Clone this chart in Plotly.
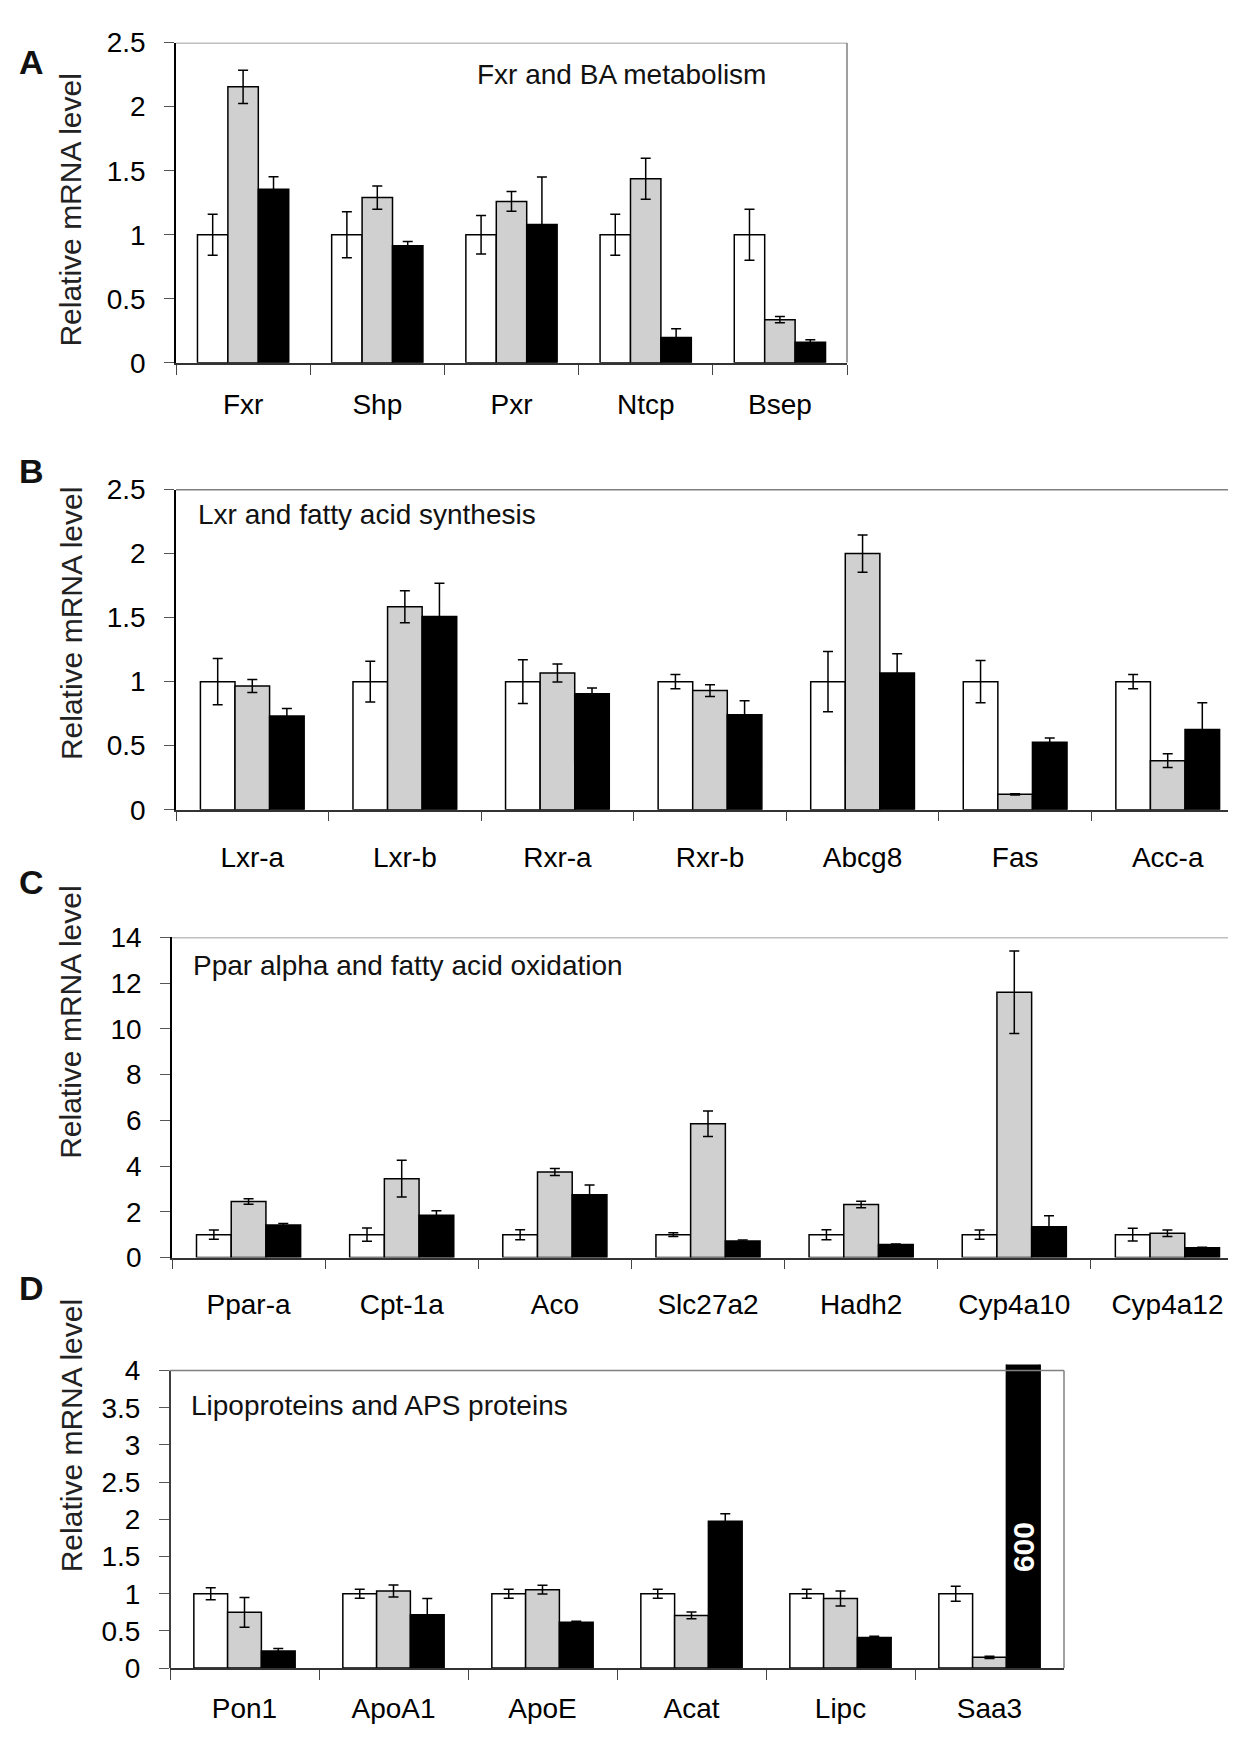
import plotly.graph_objects as go

W, H = 1236, 1737
FONT = "Liberation Sans, Arial, sans-serif"

# ---------------- data ----------------
cats_a = ["Fxr", "Shp", "Pxr", "Ntcp", "Bsep"]
white_a = [1, 1, 1, 1, 1]
white_a_err = [0.16, 0.18, 0.15, 0.16, 0.20]
gray_a = [2.155, 1.29, 1.26, 1.437, 0.337]
gray_a_err = [0.13, 0.09, 0.077, 0.16, 0.024]
black_a = [1.355, 0.915, 1.08, 0.197, 0.16]
black_a_err = [0.097, 0.033, 0.37, 0.07, 0.02]

cats_b = ["Lxr-a", "Lxr-b", "Rxr-a", "Rxr-b", "Abcg8", "Fas", "Acc-a"]
white_b = [1, 1, 1, 1, 1, 1, 1]
white_b_err = [0.18, 0.16, 0.17, 0.055, 0.235, 0.165, 0.055]
gray_b = [0.966, 1.585, 1.068, 0.93, 2.0, 0.12, 0.383]
gray_b_err = [0.05, 0.125, 0.07, 0.046, 0.145, 0.005, 0.053]
black_b = [0.731, 1.508, 0.905, 0.741, 1.068, 0.527, 0.626]
black_b_err = [0.06, 0.26, 0.046, 0.11, 0.15, 0.033, 0.21]

cats_c = ["Ppar-a", "Cpt-1a", "Aco", "Slc27a2", "Hadh2", "Cyp4a10", "Cyp4a12"]
white_c = [1, 1, 1, 1, 1, 1, 1]
white_c_err = [0.2, 0.29, 0.22, 0.08, 0.22, 0.2, 0.28]
gray_c = [2.45, 3.45, 3.74, 5.85, 2.32, 11.6, 1.06]
gray_c_err = [0.12, 0.8, 0.15, 0.56, 0.14, 1.8, 0.14]
black_c = [1.42, 1.85, 2.75, 0.72, 0.57, 1.35, 0.43]
black_c_err = [0.07, 0.2, 0.42, 0.05, 0.02, 0.48, 0.02]

cats_d = ["Pon1", "ApoA1", "ApoE", "Acat", "Lipc", "Saa3"]
white_d = [1, 1, 1, 1, 1, 1]
white_d_err = [0.08, 0.06, 0.06, 0.06, 0.06, 0.1]
gray_d = [0.75, 1.037, 1.055, 0.708, 0.936, 0.145]
gray_d_err = [0.2, 0.08, 0.06, 0.045, 0.1, 0.015]
black_d = [0.229, 0.716, 0.615, 1.974, 0.413, 600]
black_d_err = [0.035, 0.22, 0.015, 0.1, 0.015, 0]

panel_letters = ["A", "B", "C", "D"]
panel_titles = ["Fxr and BA metabolism", "Lxr and fatty acid synthesis",
                "Ppar alpha and fatty acid oxidation", "Lipoproteins and APS proteins"]
y_title = "Relative mRNA level"
saa3_label = "600"

# ---------------- layout geometry (pixels) ----------------
# (left, right, top, bottom) of each plot area
boxes = [
    (168, 839, 20, 346),
    (168, 1236, 475, 801),
    (164, 1236, 931, 1257),
    (162, 1056, 1366, 1675),
]
yranges = [[0, 2.5], [0, 2.5], [0, 14], [0, 4.08]]
ydticks = [0.5, 0.5, 2, 0.5]
x_standoff = [16, 22, 21, 15]
title_pos = [(467, 52), (188, 500), (183, 960), (181, 1408)]
ytitle_y = [191, 612, 1018, 1439]
letter_y = [40, 456, 875, 1288]


def px(x):
    return x / W


def py(y):
    return 1 - y / H


panels = [
    (cats_a, white_a, white_a_err, gray_a, gray_a_err, black_a, black_a_err),
    (cats_b, white_b, white_b_err, gray_b, gray_b_err, black_b, black_b_err),
    (cats_c, white_c, white_c_err, gray_c, gray_c_err, black_c, black_c_err),
    (cats_d, white_d, white_d_err, gray_d, gray_d_err, black_d, black_d_err),
]

fig = go.Figure()
annotations = []
shapes = []

for i, (cats, wv, we, gv, ge, bv, be) in enumerate(panels):
    n = i + 1
    xa = "x" if n == 1 else f"x{n}"
    ya = "y" if n == 1 else f"y{n}"
    for vals, errs, fill in ((wv, we, "white"), (gv, ge, "#d0d0d0"), (bv, be, "black")):
        fig.add_trace(go.Bar(
            x=cats, y=vals, xaxis=xa, yaxis=ya,
            marker=dict(color=fill, line=dict(color="black", width=1.5)),
            error_y=dict(type="data", array=errs, color="black", thickness=1.5, width=5),
            showlegend=False, hoverinfo="skip",
        ))
    l, r, t, b = boxes[i]
    xkey = "xaxis" if n == 1 else f"xaxis{n}"
    ykey = "yaxis" if n == 1 else f"yaxis{n}"
    top_val = 4 if n == 4 else yranges[i][1]
    fig.update_layout({
        xkey: dict(
            domain=[px(l), px(r)], anchor=ya, type="category",
            showline=True, linecolor="#333333", linewidth=1.5,
            ticks="outside", tickson="boundaries", ticklen=10, tickcolor="#444444", tickwidth=1.2,
            tickfont=dict(family=FONT, size=28, color="black"),
            ticklabelstandoff=x_standoff[i], showgrid=False, zeroline=False, fixedrange=True,
        ),
        ykey: dict(
            domain=[py(b), py(t)], anchor=xa, range=yranges[i],
            tickmode="linear", tick0=0, dtick=ydticks[i],
            showline=(n != 4), linecolor="black", linewidth=1.5,
            ticks="outside", ticklen=10, tickcolor="#555555", tickwidth=1.2,
            tickfont=dict(family=FONT, size=28, color="black"),
            ticklabelstandoff=13, showgrid=False, zeroline=False, fixedrange=True,
        ),
    })
    if n == 4:
        fig.update_layout({ykey: dict(tickmode="array",
                                      tickvals=[0, 0.5, 1, 1.5, 2, 2.5, 3, 3.5, 4],
                                      ticktext=["0", "0.5", "1", "1.5", "2", "2.5", "3", "3.5", "4"])})
        shapes.append(dict(type="line", xref=f"{xa} domain", yref=ya, x0=0, x1=0, y0=0, y1=top_val,
                           line=dict(color="black", width=1.5)))
    # top border
    top_color = "black" if n == 2 else "#808080"
    shapes.append(dict(type="line", xref=f"{xa} domain", yref=ya, x0=0, x1=1, y0=top_val, y1=top_val,
                       line=dict(color=top_color, width=1.5)))
    if n in (1, 4):
        shapes.append(dict(type="line", xref=f"{xa} domain", yref=ya, x0=1, x1=1, y0=0, y1=top_val,
                           line=dict(color="#808080", width=1.5)))
    # panel subtitle
    tx, ty = title_pos[i]
    annotations.append(dict(text=panel_titles[i], xref="paper", yref="paper", x=px(tx), y=py(ty),
                            xanchor="left", yanchor="middle", showarrow=False,
                            font=dict(family=FONT, size=28, color="#111111")))
    # y-axis title
    annotations.append(dict(text=y_title, xref="paper", yref="paper", x=px(63), y=py(ytitle_y[i]),
                            xanchor="center", yanchor="middle", textangle=-90, showarrow=False,
                            font=dict(family=FONT, size=30, color="#222222")))
    # panel letter
    annotations.append(dict(text=f"<b>{panel_letters[i]}</b>", xref="paper", yref="paper",
                            x=px(23), y=py(letter_y[i]), xanchor="center", yanchor="middle",
                            showarrow=False, font=dict(family=FONT, size=34, color="#111111")))

# label inside the truncated Saa3 bar
annotations.append(dict(text=f"<b>{saa3_label}</b>", xref="x4", yref="y4", x=cats_d[-1], y=1.62,
                        xshift=34, textangle=-90, showarrow=False,
                        font=dict(family=FONT, size=30, color="white")))

fig.update_layout(
    width=W, height=H, autosize=False,
    margin=dict(l=0, r=0, t=0, b=0, pad=0),
    paper_bgcolor="white", plot_bgcolor="white",
    barmode="group", bargap=0.32, bargroupgap=0,
    annotations=annotations, shapes=shapes,
    font=dict(family=FONT),
)

fig.write_html("out.html")
